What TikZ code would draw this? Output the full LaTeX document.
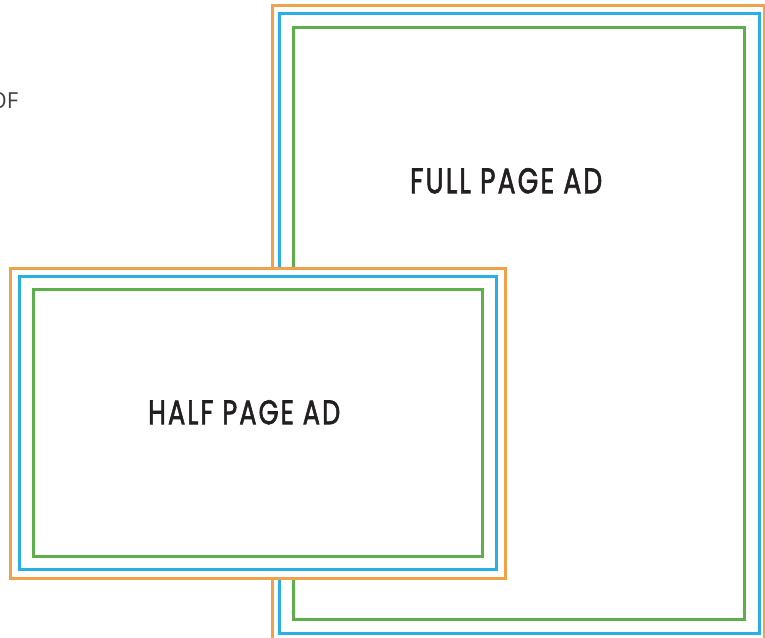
\documentclass[tikz,border=0pt]{standalone}
\usepackage{fontspec}
\setmainfont{Poppins}
\newfontfamily\adfont{Poppins}[FakeBold=2, LetterSpace=8]
\newfontfamily\ofont{Open Sans}
\definecolor{adorange}{HTML}{EFA24A}
\definecolor{adblue}{HTML}{2AAFE5}
\definecolor{adgreen}{HTML}{5CAF4A}
\definecolor{adtext}{HTML}{231F20}
\tikzset{
  bleed/.style={draw=adorange, line width=3pt},
  trim/.style={draw=adblue, line width=3pt},
  safe/.style={draw=adgreen, line width=3pt},
  adlabel/.style={inner sep=0pt, text=adtext, anchor=north west, font=\adfont}
}
\begin{document}
\begin{tikzpicture}[x=1pt, y=-1pt]
\useasboundingbox (0,0) rectangle (765,637);
\clip (0,0) rectangle (765,637);
% cut-off text at left
\node[inner sep=0pt, anchor=south east, text=black!75] (of) at (18.5,109)
  {\resizebox{!}{16pt}{\ofont OF}};
% full page ad
\draw[bleed, fill=white] (272,5) rectangle (764,660);
\draw[trim] (279,13) rectangle (759,633);
\draw[safe] (293,27) rectangle (744,619);
\node[adlabel] (full) at (410,168) {\resizebox{192pt}{25pt}{FULL PAGE AD}};
% half page ad
\draw[bleed, fill=white] (10,268) rectangle (505,578);
\draw[trim] (19,276) rectangle (496,569);
\draw[safe] (33,289) rectangle (482,556);
\node[adlabel] (half) at (148,400) {\resizebox{192pt}{24pt}{HALF PAGE AD}};
\end{tikzpicture}
\end{document}
